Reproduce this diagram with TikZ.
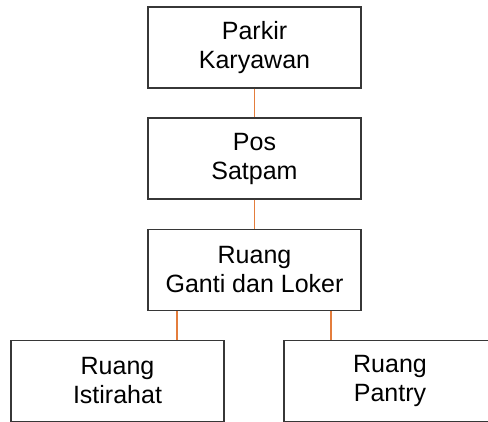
\documentclass[tikz,border=0pt]{standalone}
\usepackage{fontspec}
\setmainfont{Liberation Sans}
\definecolor{boxline}{RGB}{55,55,55}
\definecolor{linkorange}{RGB}{228,125,60}
\begin{document}
\begin{tikzpicture}[x=1pt,y=1pt,
  roombox/.style={draw=boxline,line width=1.3pt,fill=white,rectangle,
    minimum width=213pt,minimum height=81pt,inner sep=0pt,align=center,
    font=\fontsize{25}{29}\selectfont},
  link/.style={draw=linkorange,line width=1.5pt}]
\useasboundingbox (0,0) rectangle (488,-422);
\clip (0,0) rectangle (488,-422);
\node[roombox] (parkir) at (254.5,-47.5) {Parkir\\Karyawan};
\node[roombox] (pos) at (254.5,-158.5) {Pos\\Satpam};
\node[roombox] (ganti) at (254.5,-270) {Ruang\\Ganti dan Loker};
\node[roombox] (istirahat) at (117.5,-381) {Ruang\\Istirahat};
\node[roombox,minimum width=212pt] (pantry) at (390,-381) {Ruang\\Pantry};
\coordinate (cl) at (177,0);
\coordinate (cr) at (331,0);
\draw[link] (parkir.south) -- (pos.north);
\draw[link] (pos.south) -- (ganti.north);
\draw[link] (ganti.south -| cl) -- (istirahat.north -| cl);
\draw[link] (ganti.south -| cr) -- (pantry.north -| cr);
\end{tikzpicture}
\end{document}
